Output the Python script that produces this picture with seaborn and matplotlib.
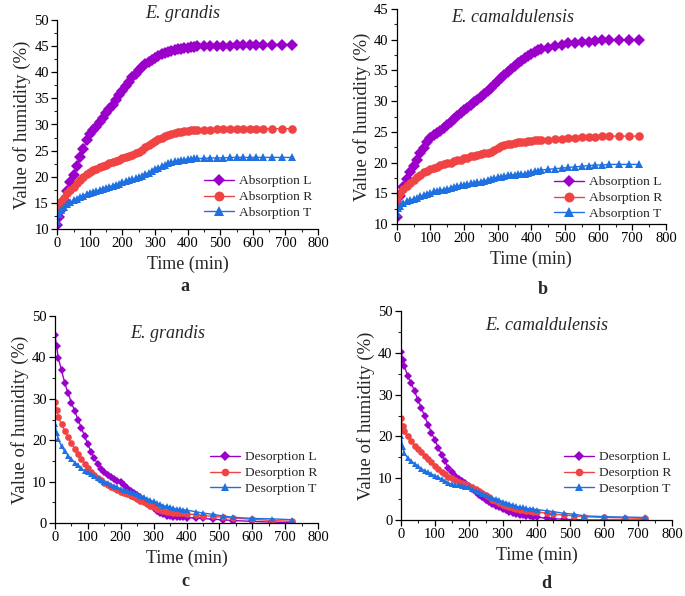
import numpy as np
import pandas as pd
import matplotlib
matplotlib.use("Agg")
import matplotlib.pyplot as plt
from matplotlib.ticker import MultipleLocator
import seaborn as sns

# ---------------- data ----------------
t_abs = [0, 5, 10, 20, 30, 40, 50, 60, 70, 80, 90, 100, 110, 120, 130, 140, 150, 160, 170, 180,
         190, 200, 210, 220, 230, 240, 250, 260, 270, 280, 290, 300, 310, 320, 330, 340, 350,
         360, 370, 380, 390, 400, 410, 420, 430,
         450, 470, 490, 510, 530, 550, 570, 590, 610, 630, 660, 690, 720]

grandis_abs_L = [10.8, 12.3, 13.6, 15.6, 17.3, 18.9, 20.4, 22.0, 23.7, 25.3, 27.0, 28.2, 28.9, 29.6,
                 30.4, 31.3, 32.2, 33.0, 33.8, 34.7, 35.6, 36.5, 37.4, 38.2, 39.0, 39.7, 40.4, 41.0,
                 41.5, 42.0, 42.4, 42.8, 43.1, 43.4, 43.6, 43.8, 44.0, 44.2, 44.4, 44.5, 44.6, 44.7,
                 44.8, 44.9, 45.0,
                 45.0, 45.0, 45.1, 45.1, 45.1, 45.2, 45.2, 45.2, 45.2, 45.3, 45.3, 45.3, 45.3]
grandis_abs_R = [13.8, 14.6, 15.2, 16.0, 16.8, 17.5, 18.1, 18.8, 19.4, 20.0, 20.5, 20.9, 21.2, 21.5,
                 21.8, 22.0, 22.3, 22.6, 22.8, 23.0, 23.3, 23.5, 23.7, 24.0, 24.2, 24.5, 24.8, 25.2,
                 25.6, 26.0, 26.4, 26.8, 27.2, 27.5, 27.8, 28.0, 28.2, 28.4, 28.5, 28.6, 28.7, 28.8,
                 28.9, 28.9, 29.0,
                 29.0, 29.0, 29.1, 29.1, 29.1, 29.2, 29.2, 29.2, 29.2, 29.2, 29.2, 29.2, 29.2]
grandis_abs_T = [11.5, 12.8, 13.6, 14.3, 14.7, 15.1, 15.5, 15.8, 16.1, 16.4, 16.7, 16.9, 17.1, 17.3,
                 17.5, 17.7, 17.9, 18.1, 18.3, 18.5, 18.7, 18.9, 19.1, 19.3, 19.5, 19.7, 19.9, 20.2,
                 20.5, 20.8, 21.1, 21.4, 21.7, 22.0, 22.3, 22.6, 22.8, 23.0, 23.1, 23.2, 23.3, 23.4,
                 23.4, 23.5, 23.5,
                 23.5, 23.6, 23.6, 23.6, 23.7, 23.7, 23.7, 23.7, 23.7, 23.7, 23.7, 23.7, 23.7]

camal_abs_L = [11.2, 13.2, 14.5, 16.0, 17.3, 18.5, 19.5, 20.5, 21.5, 22.4, 23.3, 24.0, 24.5, 24.8,
               25.2, 25.7, 26.1, 26.6, 27.1, 27.6, 28.0, 28.5, 28.9, 29.3, 29.8, 30.2, 30.7, 31.2,
               31.7, 32.2, 32.7, 33.2, 33.7, 34.2, 34.7, 35.2, 35.7, 36.2, 36.6, 37.0, 37.4, 37.7,
               38.0, 38.3, 38.5,
               38.7, 39.0, 39.2, 39.4, 39.5, 39.6, 39.7, 39.8, 39.9, 39.9, 40.0, 40.0, 40.0]
camal_abs_R = [13.5, 14.5, 15.0, 15.7, 16.2, 16.7, 17.2, 17.6, 18.0, 18.4, 18.7, 18.9, 19.1, 19.3,
               19.6, 19.8, 19.9, 20.0, 20.2, 20.4, 20.5, 20.7, 20.8, 21.0, 21.1, 21.3, 21.4, 21.5,
               21.6, 21.8, 22.1, 22.4, 22.7, 22.9, 23.0, 23.1, 23.2, 23.3, 23.3, 23.4, 23.5, 23.5,
               23.6, 23.6, 23.6,
               23.7, 23.8, 23.9, 24.0, 24.0, 24.1, 24.2, 24.2, 24.3, 24.3, 24.3, 24.3, 24.3]
camal_abs_T = [11.8, 12.6, 13.0, 13.4, 13.7, 13.9, 14.1, 14.3, 14.5, 14.7, 14.9, 15.1, 15.3, 15.4,
               15.5, 15.6, 15.7, 15.9, 16.0, 16.2, 16.3, 16.4, 16.5, 16.6, 16.7, 16.8, 16.9, 17.0,
               17.2, 17.3, 17.5, 17.6, 17.7, 17.8, 17.9, 18.0, 18.0, 18.1, 18.1, 18.2, 18.3, 18.4,
               18.6, 18.7, 18.8,
               18.9, 19.0, 19.1, 19.2, 19.3, 19.4, 19.5, 19.6, 19.6, 19.7, 19.7, 19.7, 19.7]

t_des = [0, 5, 10, 20, 30, 40, 50, 60, 70, 80, 90, 100, 110, 120, 130, 140, 150, 160, 170, 180,
         190, 200, 210, 220, 230, 240, 250, 260, 270, 280, 290, 300, 310, 320, 330, 340, 350,
         360, 370, 380, 390, 400,
         430, 450, 480, 510, 540, 600, 660, 720]

grandis_des_L = [45.3, 42.7, 39.8, 36.9, 33.7, 31.3, 29.1, 27.0, 25.0, 23.0, 21.0, 19.0, 17.2, 15.6,
                 14.2, 13.1, 12.2, 11.5, 11.0, 10.6, 10.2, 9.8, 9.2, 8.5, 7.8, 7.3, 6.8, 6.2, 5.6,
                 5.0, 4.4, 3.7, 3.0, 2.5, 2.1, 1.8, 1.6, 1.5, 1.5, 1.4, 1.4, 1.3,
                 1.2, 1.1, 0.9, 0.8, 0.6, 0.4, 0.2, 0.1]
grandis_des_R = [29.2, 27.2, 25.6, 23.8, 22.2, 20.7, 19.3, 17.9, 16.6, 15.4, 14.3, 13.2, 12.4, 11.6,
                 10.9, 10.3, 9.7, 9.2, 8.8, 8.4, 8.0, 7.6, 7.2, 6.9, 6.5, 6.2, 5.8, 5.4, 5.0, 4.6,
                 4.2, 3.8, 3.4, 3.1, 2.9, 2.7, 2.6, 2.5, 2.4, 2.4, 2.3, 2.2,
                 2.0, 1.8, 1.6, 1.4, 1.2, 0.9, 0.6, 0.4]
grandis_des_T = [23.9, 21.8, 20.2, 18.5, 17.3, 16.3, 15.4, 14.6, 13.9, 13.2, 12.6, 12.2, 11.8, 11.3,
                 10.8, 10.4, 10.0, 9.6, 9.2, 8.9, 8.6, 8.3, 8.0, 7.8, 7.5, 7.2, 6.9, 6.6, 6.2, 5.9,
                 5.5, 5.2, 4.8, 4.5, 4.2, 4.0, 3.8, 3.6, 3.4, 3.3, 3.2, 3.1,
                 2.7, 2.4, 2.1, 1.7, 1.4, 1.1, 1.0, 0.8]

camal_des_L = [40.3, 38.3, 36.8, 34.4, 32.8, 30.8, 28.8, 26.8, 24.8, 22.8, 20.8, 19.2, 17.3, 15.6,
               14.0, 12.5, 11.4, 10.5, 9.8, 9.3, 8.8, 8.2, 7.5, 6.8, 6.1, 5.5, 4.9, 4.3, 3.8, 3.4,
               3.0, 2.6, 2.3, 2.0, 1.7, 1.5, 1.3, 1.1, 1.0, 0.9, 0.8, 0.7,
               0.4, 0.3, 0.2, 0.1, 0.0, 0.0, 0.0, 0.0]
camal_des_R = [24.4, 22.4, 21.2, 20.0, 18.8, 17.8, 17.0, 16.2, 15.4, 14.6, 13.8, 13.0, 12.3, 11.6,
               11.0, 10.4, 10.0, 9.6, 9.2, 8.8, 8.5, 8.2, 7.8, 7.4, 6.9, 6.4, 5.9, 5.4, 4.9, 4.5,
               4.1, 3.7, 3.4, 3.1, 2.8, 2.6, 2.5, 2.3, 2.2, 2.1, 2.0, 2.0,
               1.6, 1.4, 1.2, 1.0, 0.8, 0.6, 0.5, 0.4]
camal_des_T = [20.0, 17.5, 16.0, 14.8, 14.1, 13.5, 12.8, 12.3, 11.8, 11.4, 11.0, 10.6, 10.2, 9.8,
               9.3, 8.9, 8.6, 8.4, 8.3, 8.2, 8.0, 7.8, 7.4, 7.0, 6.7, 6.3, 6.0, 5.6, 5.3, 5.0,
               4.7, 4.4, 4.1, 3.9, 3.6, 3.3, 3.1, 3.0, 2.8, 2.7, 2.6, 2.5,
               2.2, 2.0, 1.6, 1.4, 1.0, 0.8, 0.7, 0.6]

abs_labels = ["Absorption L", "Absorption R", "Absorption T"]
des_labels = ["Desorption L", "Desorption R", "Desorption T"]
titles = ["E. grandis", "E. camaldulensis", "E. grandis", "E. camaldulensis"]
panel_letters = ["a", "b", "c", "d"]

# ---------------- style ----------------
sns.set_theme(style="ticks")
plt.rcParams["font.family"] = ["Liberation Serif", "DejaVu Serif"]

colors = ["#9A00C9", "#F04444", "#1F70E0"]
markers = ["D", "o", "^"]

fig = plt.figure(figsize=(6.85, 5.96), dpi=100)

W, H = 685, 596
def add_ax(x0, x1, ytop, ybot):
    return fig.add_axes([x0 / W, 1 - ybot / H, (x1 - x0) / W, (ybot - ytop) / H])

ax_a = add_ax(57.3, 318, 20, 229)
ax_b = add_ax(396.7, 666, 9, 224)
ax_c = add_ax(55, 318, 316, 523)
ax_d = add_ax(401, 672, 311, 520)

panels = [
    (ax_a, t_abs, [grandis_abs_L, grandis_abs_R, grandis_abs_T], abs_labels, (10, 50), 5, 2.5, 6.2),
    (ax_b, t_abs, [camal_abs_L, camal_abs_R, camal_abs_T], abs_labels, (10, 45), 5, 2.5, 6.2),
    (ax_c, t_des, [grandis_des_L, grandis_des_R, grandis_des_T], des_labels, (0, 50), 10, 5, 4.8),
    (ax_d, t_des, [camal_des_L, camal_des_R, camal_des_T], des_labels, (0, 50), 10, 5, 4.8),
]

for ax, tt, series, labels, ylim, ymaj, ymin, ms in panels:
    for vals, lab, col, mk in zip(series, labels, colors, markers):
        df = pd.DataFrame({"Time": tt, "Value": vals})
        msz = ms * (0.92 if mk == "D" else 1.0)
        sns.lineplot(data=df, x="Time", y="Value", ax=ax, color=col, marker=mk,
                     markersize=msz, markeredgewidth=0, markeredgecolor=col,
                     linewidth=1.0, label=lab, sort=False, estimator=None)
    ax.set_xlim(0, 800)
    ax.set_ylim(*ylim)
    ax.xaxis.set_major_locator(MultipleLocator(100))
    ax.xaxis.set_minor_locator(MultipleLocator(50))
    ax.yaxis.set_major_locator(MultipleLocator(ymaj))
    ax.yaxis.set_minor_locator(MultipleLocator(ymin))
    ax.tick_params(axis="both", which="major", direction="out", length=4, width=0.9,
                   labelsize=10.5, colors="black", pad=2)
    ax.tick_params(axis="both", which="minor", direction="out", length=2, width=0.8)
    for s in ["top", "right"]:
        ax.spines[s].set_visible(False)
    for s in ["left", "bottom"]:
        ax.spines[s].set_color("black")
        ax.spines[s].set_linewidth(0.9)
    ax.set_xlabel("Time (min)", fontsize=13, labelpad=4)
    ax.set_ylabel("Value of humidity (%)", fontsize=13.5, labelpad=2)
    ax.patch.set_alpha(0)

# legends
leg_pos = {ax_a: (204, 175), ax_b: (554, 176), ax_c: (210, 451), ax_d: (564, 451)}
for ax in [ax_a, ax_b, ax_c, ax_d]:
    x0, y0 = leg_pos[ax]
    ax.legend(loc="upper left", bbox_to_anchor=(x0 / W, 1 - y0 / H),
              bbox_transform=fig.transFigure, frameon=False, fontsize=9.7,
              handlelength=2.2, handletextpad=0.4, labelspacing=0.25,
              borderpad=0, borderaxespad=0, markerscale=1.15)

# titles
title_pos = [(183, 14), (513, 17), (168, 333), (547, 325)]
for (x, y), ttl in zip(title_pos, titles):
    fig.text(x / W, 1 - y / H, ttl, ha="center", va="center", fontsize=13,
             fontstyle="italic")

# panel letters
letter_pos = [(185, 287), (543, 290), (185, 581), (546, 584)]
for (x, y), let in zip(letter_pos, panel_letters):
    fig.text(x / W, 1 - y / H, let, ha="center", va="center", fontsize=13,
             fontweight="bold")

fig.savefig("out.png", dpi=100, facecolor="white")
